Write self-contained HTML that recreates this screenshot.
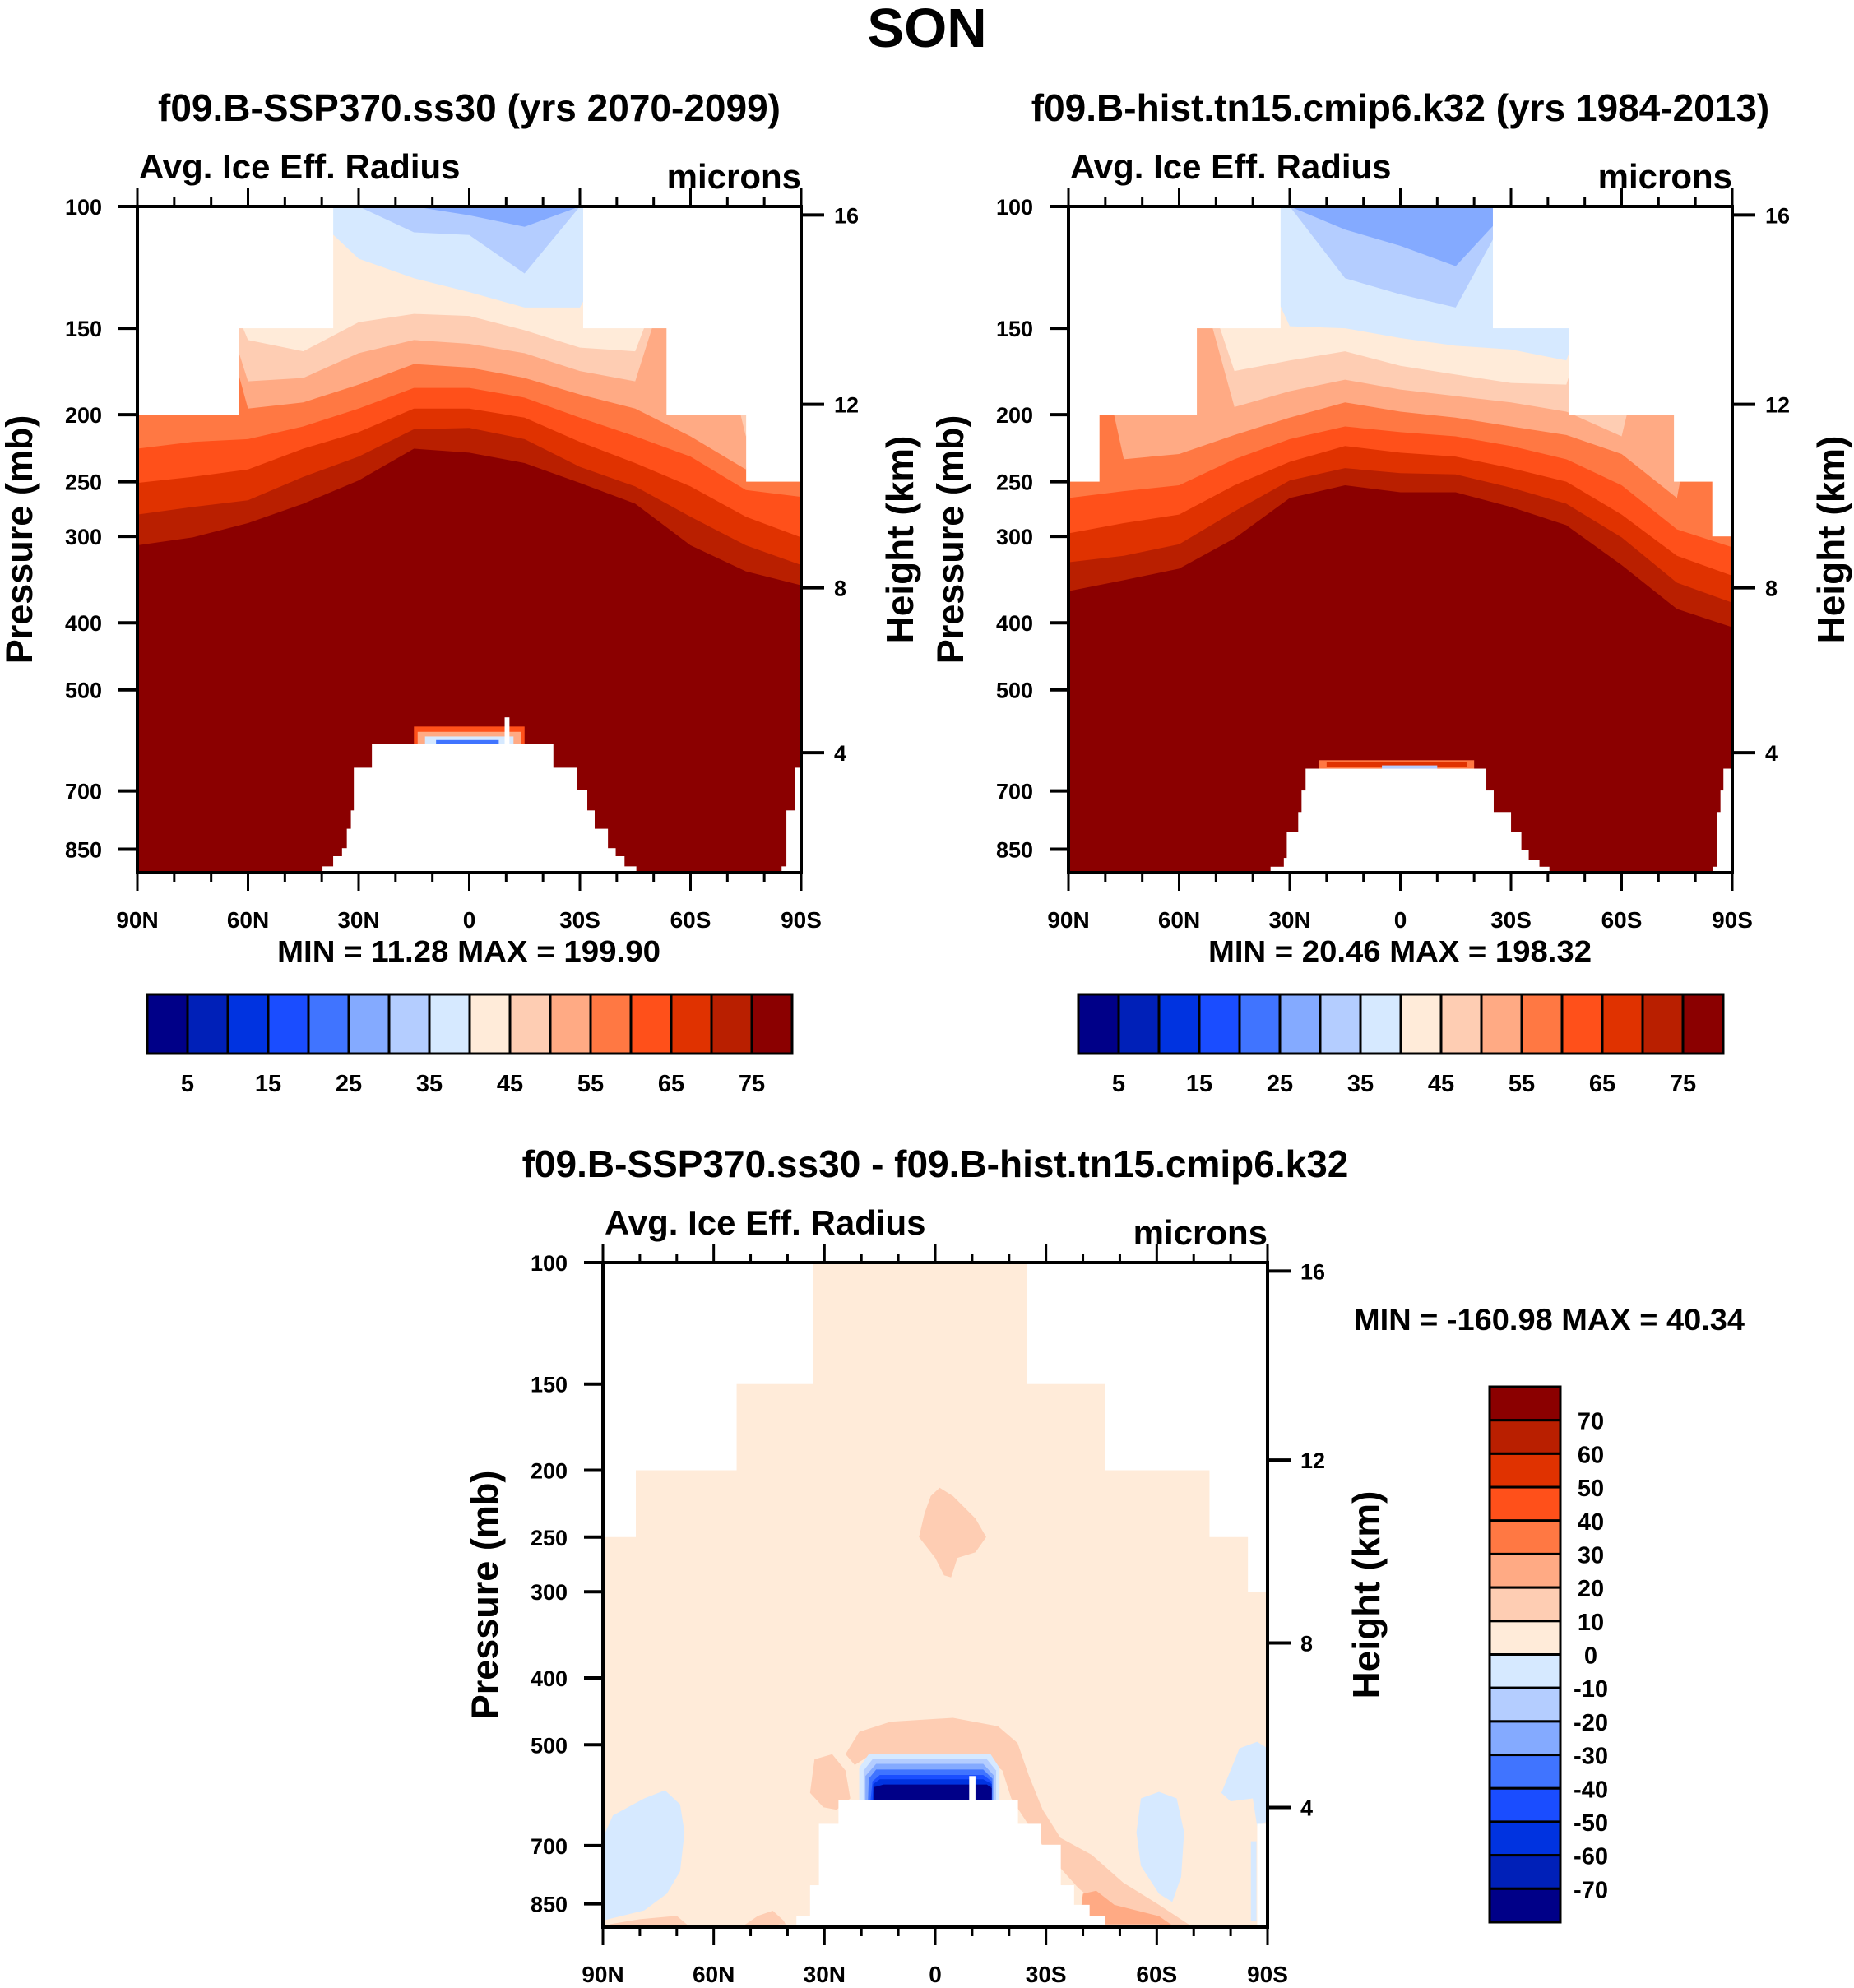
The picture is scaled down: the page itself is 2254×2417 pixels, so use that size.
<!DOCTYPE html>
<html><head><meta charset="utf-8">
<style>
html,body{margin:0;padding:0;background:#fff;}
svg{display:block;font-family:"Liberation Sans",Arial,sans-serif;font-weight:bold;}
</style></head>
<body>
<svg id="fig" width="2254" height="2417" viewBox="0 0 2254 2417" xmlns="http://www.w3.org/2000/svg">
<text x="1127" y="57" font-size="67" text-anchor="middle">SON</text>
</svg>
<script>
// ---------------- data ----------------
const colors = ["#000088","#0020b8","#0033e0","#1a4dff","#4074ff","#84aaff","#b4cdff","#d6e9ff","#ffebd9","#fecdb3","#ffaa84","#ff7843","#ff501a","#e03200","#b91f00","#8b0000"];
const absTickLabels = ["5","15","25","35","45","55","65","75"];
const diffTickLabels = ["70","60","50","40","30","20","10","0","-10","-20","-30","-40","-50","-60","-70"];
const latTicks = [90,60,30,0,-30,-60,-90];
const latTickLabels = ["90N","60N","30N","0","30S","60S","90S"];
const presTicks = [100,150,200,250,300,400,500,700,850];
const heightTicks = [16,12,8,4];
const contourLats = [90,75,60,45,30,15,0,-15,-30,-45,-60,-75,-90];
const pBottom = 919;

// Panel 1: SSP370 — pressure (mb) at top of each colour band (levels 6..16)
const ssp_B6  = [100,100,100,100,100,100,100,100,100,100,100,100,100];
const ssp_B7  = [100,100,100,100,100,100,103,107,100,100,100,100,100];
const ssp_B8  = [100,100,100,100,100,109,110,125,100,100,100,100,100];
const ssp_B9  = [100,100,100,100,119,127,133,140,140,100,100,100,100];
const ssp_B10 = [100,100,156,162,147,143,144,151,160,162,100,100,100];
const ssp_B11 = [100,100,179,177,163,156,158,163,173,179,100,215,100];
const ssp_B12 = [100,100,196,192,181,169,171,177,187,196,215,240,100];
const ssp_B13 = [224,219,217,208,196,183,183,189,202,215,230,257,263];
const ssp_B14 = [251,246,240,224,212,196,196,202,219,235,254,281,301];
const ssp_B15 = [279,272,266,246,230,210,209,217,238,254,281,309,330];
const ssp_B16 = [309,301,287,269,249,224,227,235,251,269,309,337,353];
const sspMaskEdges = [90,62.5,37,-31,-53.6,-75.2,-90];
const sspMaskTops = [200,150,100,150,200,250];
const sspTopo = [[39.8,36.9,900],[36.9,34.5,870],[34.5,33.2,847],[33.2,32.1,794],[32.1,31.3,747],[31.3,26.4,648],[26.4,-22.7,598],[-22.7,-29.1,648],[-29.1,-31.9,698],[-31.9,-33.9,747],[-33.9,-37.5,794],[-37.5,-39.6,847],[-39.6,-42,870],[-42,-45.2,900],[-84.7,-86,900],[-86,-88.4,747],[-88.4,-90,648]];
const sspStrips = [[13,15,-15,565,600],[11,14,-14,575,600],[8,12,-12,584,600],[5,9,-8,591,598],[0,-9.6,-10.9,548,600]];

// Panel 2: hist
const hist_B6  = [100,100,100,100,100,100,100,100,100,100,100,100,100];
const hist_B7  = [100,100,100,100,100,108,114,122,100,100,100,100,100];
const hist_B8  = [100,100,100,100,100,127,134,140,100,100,100,100,100];
const hist_B9  = [100,100,100,100,149,150,155,159,161,167,100,100,100];
const hist_B10 = [100,100,100,173,167,162,170,175,180,181,100,100,100];
const hist_B11 = [100,100,100,195,185,178,184,188,192,198,215,100,100];
const hist_B12 = [100,232,228,214,202,192,198,202,208,214,228,264,100];
const hist_B13 = [264,258,253,232,217,208,212,215,222,232,253,293,311];
const hist_B14 = [297,287,279,253,234,222,227,230,239,250,279,320,342];
const hist_B15 = [327,320,308,276,249,239,243,244,255,269,301,350,374];
const hist_B16 = [360,347,334,302,264,253,259,259,272,289,330,382,406];
const histMaskEdges = [90,81.7,55.3,32.6,-25.2,-45.9,-74.3,-84.7,-90];
const histMaskTops = [250,200,150,100,150,200,250,300];
const histTopo = [[35.2,31.6,901],[31.6,30.8,875],[30.8,27.7,802],[27.7,26.8,751],[26.8,25.7,699],[25.7,-23.2,650],[-23.2,-25.2,699],[-25.2,-29.9,751],[-29.9,-32.7,802],[-32.7,-34.7,852],[-34.7,-37.6,881],[-37.6,-40.3,901],[-84.7,-85.8,901],[-85.8,-86.8,751],[-86.8,-87.6,699],[-87.6,-90,650]];
const histStrips = [[12,22,-20,632,650],[14,20,-18,636,646],[7,5,-10,643,650]];

// Panel 3: difference (patches: colour index, [lat, p] outline)
const diffMaskEdges = [90,81.2,53.9,33.1,-25,-46,-74.4,-84.8,-90];
const diffMaskTops = [250,200,150,100,150,200,250,300];
const diffTopo = [[42.4,37.6,911],[37.6,33.9,886],[33.9,31.5,799],[31.5,26.2,651],[26.2,-22.3,601],[-22.3,-28.6,651],[-28.6,-33.9,698],[-33.9,-37.5,799],[-37.5,-41.7,853],[-41.7,-46,886],[-46,-60.6,911],[-87.2,-90,651]];
const diffBaseColor = 8;
const patchEq = [[-1.2,212],[-4.8,218],[-10.9,235],[-13.8,250],[-10.9,263],[-6,268],[-4.3,286],[-2.4,284],[0,268],[4.4,250],[2.9,231],[1.2,218]];
const patchArch = [[24.3,516],[20.6,479],[12.1,463],[-4.8,457],[-17,470],[-22.3,497],[-25.4,555],[-29.1,621],[-33.9,682],[-42.4,722],[-50.9,792],[-60.6,853],[-70.3,923],[-53.3,923],[-46,869],[-38.8,807],[-32,735],[-26.6,670],[-20.6,598],[-18.2,545],[-14.5,525],[-4.8,516],[9.7,516],[18.2,520],[21.8,535]];
const patchPillar = [[32.7,525],[27.9,516],[24.3,545],[23,598],[26.7,621],[30.3,616],[33.9,587]];
const patchBL1 = [[88,910],[80,895],[70,885],[66,923],[88,923]];
const patchBL2 = [[53,923],[48,885],[44,870],[41,900],[40,923]];
const patchBR = [[-40,822],[-43.6,814],[-48.5,853],[-60.6,886],[-65.4,923],[-38.8,923]];
const patchBlueL = [[90,682],[87.3,633],[78.8,598],[73.2,582],[69.1,610],[67.9,670],[69.1,763],[72.7,822],[78.8,869],[90,899]];
const patchBlueR = [[-55.7,598],[-60.6,585],[-65.4,598],[-67.4,670],[-66.6,777],[-64.2,845],[-60.6,822],[-55.7,749],[-54.5,670]];
const patchBlueFR = [[-77.5,587],[-82.4,506],[-87.2,495],[-90,506],[-90,645],[-87.2,657],[-86,598],[-80,604]];
const patchBlueFR2 = [[-85.5,690],[-87,690],[-87,899],[-85.5,899]];
const pill8 = [[20.6,601],[20.6,540],[18,516],[-15,516],[-17.4,540],[-17.4,601]];
const pill7 = [[19.4,601],[19.4,545],[17,525],[-14,525],[-16.5,545],[-16.5,601]];
const pill6 = [[18.9,601],[18.9,555],[16,533],[-13,533],[-16,555],[-16,601]];
const pill5 = [[18.2,601],[18,560],[16,543],[-13,543],[-15.5,560],[-15.5,601]];
const pill4 = [[17.5,601],[17,565],[15,553],[-13,553],[-15.3,565],[-15.3,601]];
const pill3 = [[17,601],[16.8,570],[15,561],[-13,561],[-15.3,570],[-15.3,601]];
const pill2 = [[16.5,601],[16.5,573],[-15.3,573],[-15.3,601]];
const pill1 = [[16.5,601],[16.5,576],[14,571],[-14,571],[-15.3,578],[-15.3,601]];
const pillGap = [[-9.2,555],[-10.9,555],[-10.9,601],[-9.2,601]];

// ---------------- drawing ----------------
const NS = "http://www.w3.org/2000/svg";
const svg = document.getElementById("fig");
function mk(tag, attrs, parent){
  const e = document.createElementNS(NS, tag);
  for (const k in attrs) e.setAttribute(k, attrs[k]);
  (parent||svg).appendChild(e);
  return e;
}
function txt(str, attrs, parent){ const t = mk("text", attrs, parent); t.textContent = str; return t; }

function stdHeightToP(km){
  const h = km*1000;
  if (h <= 11000) return 1013.25*Math.pow(1-2.25577e-5*h,5.25588);
  return 226.32*Math.exp(-(h-11000)/6341.6);
}

function makePanel(P){
  const g = mk("g", {});
  
  
  const xS = lat => P.x0 + (90-lat)/180*(P.x1-P.x0);
  const yS = p => P.y0 + Math.log10(p/100)/Math.log10(pBottom/100)*(P.y1-P.y0);
  const cid = "clip-"+P.id;
  const defs = mk("defs", {}, g);
  const cp = mk("clipPath", {id:cid}, defs);
  mk("rect", {x:P.x0, y:P.y0, width:P.x1-P.x0, height:P.y1-P.y0}, cp);
  const field = mk("g", {"clip-path":"url(#"+cid+")"}, g);
  
  

  if (P.bands){
    P.bands.forEach((arr, j) => {
      const ci = P.firstBand + j;
      let d = "M" + xS(contourLats[0]) + "," + yS(arr[0]);
      for (let i=1;i<contourLats.length;i++) d += " L" + xS(contourLats[i]) + "," + yS(arr[i]);
      d += " L" + xS(-90) + "," + yS(pBottom) + " L" + xS(90) + "," + yS(pBottom) + " Z";
      const path = mk("path", {d:d, fill:colors[ci]}, field);
      
      
    });
  }
  if (P.base !== undefined){
    const r = mk("rect", {x:P.x0, y:P.y0, width:P.x1-P.x0, height:P.y1-P.y0, fill:colors[P.base]}, field);
    
    
  }
  (P.patches||[]).forEach(pt => {
    const d = "M" + pt.pts.map(q => xS(q[0]) + "," + yS(q[1])).join(" L") + " Z";
    const path = mk("path", {d:d, fill: pt.c < 0 ? "#ffffff" : colors[pt.c]}, field);
    
    
  });
  (P.strips||[]).forEach(s => {
    const r = mk("rect", {x:xS(s[1]), y:yS(s[3]), width:xS(s[2])-xS(s[1]), height:yS(s[4])-yS(s[3]), fill: s[0]===0 ? "#ffffff" : colors[s[0]-1]}, field);
    
    
  });
  for (let i=0;i<P.maskTops.length;i++){
    const xa = xS(P.maskEdges[i]), xb = xS(P.maskEdges[i+1]);
    const r = mk("rect", {x:xa-0.5, y:P.y0, width:xb-xa+1, height:yS(P.maskTops[i])-P.y0, fill:"#ffffff"}, field);
    
    
  }
  P.topo.forEach(t => {
    const xa = xS(t[0]), xb = xS(t[1]);
    const r = mk("rect", {x:xa, y:yS(t[2]), width:xb-xa+0.5, height:P.y1-yS(t[2]), fill:"#ffffff"}, field);
    
    
  });
  const fr = mk("rect", {x:P.x0, y:P.y0, width:P.x1-P.x0, height:P.y1-P.y0, fill:"none", stroke:"#000", "stroke-width":4}, g);
  
  
  for (let lat=90; lat>=-90; lat-=10){
    const major = lat % 30 === 0;
    const x = xS(lat), L = major ? 22 : 11;
    mk("line", {x1:x, y1:P.y1, x2:x, y2:P.y1+L, stroke:"#000", "stroke-width":3}, g);
    mk("line", {x1:x, y1:P.y0, x2:x, y2:P.y0-L, stroke:"#000", "stroke-width":3}, g);
  }
  latTicks.forEach((lat,i) => {
    const t = txt(latTickLabels[i], {x:xS(lat), y:P.y1+67, "font-size":28, "text-anchor":"middle"}, g);
    
    
  });
  presTicks.forEach(p => {
    const y = yS(p);
    mk("line", {x1:P.x0-23, y1:y, x2:P.x0, y2:y, stroke:"#000", "stroke-width":4}, g);
    const t = txt(String(p), {x:P.x0-43, y:y+10, "font-size":27, "text-anchor":"end"}, g);
    
    
  });
  heightTicks.forEach(h => {
    const y = yS(stdHeightToP(h));
    mk("line", {x1:P.x1, y1:y, x2:P.x1+28, y2:y, stroke:"#000", "stroke-width":4}, g);
    const t = txt(String(h), {x:P.x1+40, y:y+10, "font-size":27}, g);
    
    
  });
  const cy = (P.y0+P.y1)/2;
  const yl = txt("Pressure (mb)", {x:0, y:0, "font-size":45, "text-anchor":"middle", transform:"translate("+(P.x0-128)+","+cy+") rotate(-90)"}, g);
  
  
  const yr = txt("Height (km)", {x:0, y:0, "font-size":46, "text-anchor":"middle", transform:"translate("+(P.x1+136)+","+cy+") rotate(-90)"}, g);
  
  
  const ls = txt("Avg. Ice Eff. Radius", {x:P.x0+2, y:P.y0-34, "font-size":42}, g);
  
  
  const rs = txt("microns", {x:P.x1, y:P.y0-22, "font-size":42, "text-anchor":"end"}, g);
  
  
  const ti = txt(P.title, {x:(P.x0+P.x1)/2, y:P.y0-104, "font-size":46, "text-anchor":"middle"}, g);
  
  
  return g;
}

function hColorbar(x0, x1, y0, y1, idName){
  const g = mk("g", {});
  
  
  const w = (x1-x0)/colors.length;
  colors.forEach((c,i) => {
    const r = mk("rect", {x:x0+i*w, y:y0, width:w, height:y1-y0, fill:c, stroke:"#000", "stroke-width":3}, g);
    
    
  });
  absTickLabels.forEach((lab,i) => {
    const t = txt(lab, {x:x0+(2*i+1)*w, y:y1+46, "font-size":29, "text-anchor":"middle"}, g);
    
    
  });
}

const panels = [
  {id:"ssp", name:"ssp370-panel", title:"f09.B-SSP370.ss30 (yrs 2070-2099)", x0:167, x1:974, y0:251, y1:1061,
   bands:[ssp_B6,ssp_B7,ssp_B8,ssp_B9,ssp_B10,ssp_B11,ssp_B12,ssp_B13,ssp_B14,ssp_B15,ssp_B16], firstBand:5,
   maskEdges:sspMaskEdges, maskTops:sspMaskTops, topo:sspTopo, strips:sspStrips},
  {id:"hist", name:"hist-panel", title:"f09.B-hist.tn15.cmip6.k32 (yrs 1984-2013)", x0:1299, x1:2106, y0:251, y1:1061,
   bands:[hist_B6,hist_B7,hist_B8,hist_B9,hist_B10,hist_B11,hist_B12,hist_B13,hist_B14,hist_B15,hist_B16], firstBand:5,
   maskEdges:histMaskEdges, maskTops:histMaskTops, topo:histTopo, strips:histStrips},
  {id:"diff", name:"difference-panel", title:"f09.B-SSP370.ss30 - f09.B-hist.tn15.cmip6.k32", x0:733, x1:1541, y0:1535, y1:2343,
   base:diffBaseColor,
   patches:[{c:9,pts:patchEq},{c:9,pts:patchArch},{c:9,pts:patchPillar},{c:9,pts:patchBL1},{c:9,pts:patchBL2},{c:10,pts:patchBR},
            {c:7,pts:patchBlueL},{c:7,pts:patchBlueR},{c:7,pts:patchBlueFR},{c:7,pts:patchBlueFR2},
            {c:7,pts:pill8},{c:6,pts:pill7},{c:5,pts:pill6},{c:4,pts:pill5},{c:3,pts:pill4},{c:2,pts:pill3},{c:1,pts:pill2},{c:0,pts:pill1},{c:-1,pts:pillGap}],
   maskEdges:diffMaskEdges, maskTops:diffMaskTops, topo:diffTopo}
];
panels.forEach(makePanel);

const m1 = txt("MIN =  11.28  MAX = 199.90", {x:570, y:1169, "font-size":36, "text-anchor":"middle", textLength:466, lengthAdjust:"spacingAndGlyphs"});


const m2 = txt("MIN =  20.46  MAX = 198.32", {x:1702, y:1169, "font-size":36, "text-anchor":"middle", textLength:466, lengthAdjust:"spacingAndGlyphs"});


const m3 = txt("MIN = -160.98  MAX =  40.34", {x:1646, y:1617, "font-size":37, textLength:475, lengthAdjust:"spacingAndGlyphs"});



hColorbar(179, 963, 1209, 1281, "ssp-colorbar");
hColorbar(1311, 2095, 1209, 1281, "hist-colorbar");

const vg = mk("g", {});


const vy0 = 1686, vy1 = 2337, vx0 = 1811, vx1 = 1897;
const vh = (vy1-vy0)/colors.length;
colors.slice().reverse().forEach((c,i) => {
  const r = mk("rect", {x:vx0, y:vy0+i*vh, width:vx1-vx0, height:vh, fill:c, stroke:"#000", "stroke-width":3}, vg);
  
  
});
diffTickLabels.forEach((lab,i) => {
  const t = txt(lab, {x:1934, y:vy0+(i+1)*vh+11, "font-size":29, "text-anchor":"middle"}, vg);
  
  
});
</script>
</body></html>
